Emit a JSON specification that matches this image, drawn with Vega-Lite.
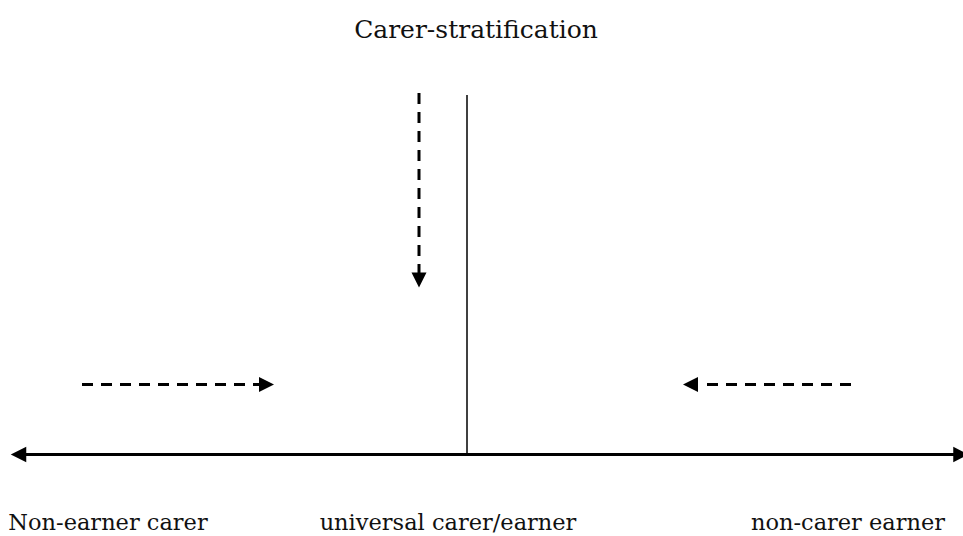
{
  "$schema": "https://vega.github.io/schema/vega-lite/v6.json",
  "autosize": {"type": "none"},
  "width": 963,
  "height": 536,
  "padding": 0,
  "background": "white",
  "config": {"view": {"stroke": null}},
  "datasets": {
    "axisLine": [{"x": 18, "x2": 956, "y": 454.5}],
    "solid": [{"x": 467, "y": 95, "y2": 454}],
    "dashedV": [{"x": 419, "y": 93, "y2": 273}],
    "dashedH": [
      {"x": 82, "x2": 262, "y": 384.5},
      {"x": 707, "x2": 853, "y": 384.5}
    ],
    "bigHeads": [
      {"x": 18.5, "y": 454.5, "dir": "left"},
      {"x": 961, "y": 454.5, "dir": "right"}
    ],
    "smallHeads": [
      {"x": 266.5, "y": 384.5, "dir": "right"},
      {"x": 690.5, "y": 384.5, "dir": "left"},
      {"x": 419, "y": 280, "dir": "down"}
    ],
    "title": [
      {"x": 476, "y": 38, "label": "Carer-stratification"}
    ],
    "labels": [
      {"x": 108, "y": 530, "label": "Non-earner carer"},
      {"x": 448, "y": 530, "label": "universal carer/earner"},
      {"x": 848, "y": 530, "label": "non-carer earner"}
    ]
  },
  "layer": [
    {
      "data": {"name": "axisLine"},
      "mark": {"type": "rule", "color": "black", "strokeWidth": 3},
      "encoding": {
        "x": {"field": "x", "type": "quantitative", "scale": {"domain": [0, 963], "nice": false, "zero": false}, "axis": null},
        "x2": {"field": "x2"},
        "y": {"field": "y", "type": "quantitative", "scale": {"domain": [0, 536], "reverse": true, "nice": false, "zero": false}, "axis": null}
      }
    },
    {
      "data": {"name": "solid"},
      "mark": {"type": "rule", "color": "black", "strokeWidth": 1.5},
      "encoding": {
        "x": {"field": "x", "type": "quantitative"},
        "y": {"field": "y", "type": "quantitative"},
        "y2": {"field": "y2"}
      }
    },
    {
      "data": {"name": "dashedV"},
      "mark": {"type": "rule", "color": "black", "strokeWidth": 3, "strokeDash": [11, 8]},
      "encoding": {
        "x": {"field": "x", "type": "quantitative"},
        "y": {"field": "y", "type": "quantitative"},
        "y2": {"field": "y2"}
      }
    },
    {
      "data": {"name": "dashedH"},
      "mark": {"type": "rule", "color": "black", "strokeWidth": 3, "strokeDash": [11, 8]},
      "encoding": {
        "x": {"field": "x", "type": "quantitative"},
        "x2": {"field": "x2"},
        "y": {"field": "y", "type": "quantitative"}
      }
    },
    {
      "data": {"name": "bigHeads"},
      "mark": {"type": "point", "filled": true, "color": "black", "opacity": 1, "size": 240, "strokeWidth": 0},
      "encoding": {
        "x": {"field": "x", "type": "quantitative"},
        "y": {"field": "y", "type": "quantitative"},
        "shape": {
          "field": "dir", "type": "nominal", "legend": null,
          "scale": {"domain": ["right", "left", "down"], "range": ["M1,0L-1,-1L-1,1Z", "M-1,0L1,-1L1,1Z", "M0,1L-1,-1L1,-1Z"]}
        }
      }
    },
    {
      "data": {"name": "smallHeads"},
      "mark": {"type": "point", "filled": true, "color": "black", "opacity": 1, "size": 225, "strokeWidth": 0},
      "encoding": {
        "x": {"field": "x", "type": "quantitative"},
        "y": {"field": "y", "type": "quantitative"},
        "shape": {
          "field": "dir", "type": "nominal", "legend": null,
          "scale": {"domain": ["right", "left", "down"], "range": ["M1,0L-1,-1L-1,1Z", "M-1,0L1,-1L1,1Z", "M0,1L-1,-1L1,-1Z"]}
        }
      }
    },
    {
      "data": {"name": "title"},
      "mark": {"type": "text", "font": "DejaVu Serif", "fontSize": 25, "color": "#111", "align": "center", "baseline": "alphabetic"},
      "encoding": {
        "x": {"field": "x", "type": "quantitative"},
        "y": {"field": "y", "type": "quantitative"},
        "text": {"field": "label", "type": "nominal"}
      }
    },
    {
      "data": {"name": "labels"},
      "mark": {"type": "text", "font": "DejaVu Serif", "fontSize": 22.5, "color": "#111", "align": "center", "baseline": "alphabetic"},
      "encoding": {
        "x": {"field": "x", "type": "quantitative"},
        "y": {"field": "y", "type": "quantitative"},
        "text": {"field": "label", "type": "nominal"}
      }
    }
  ]
}
